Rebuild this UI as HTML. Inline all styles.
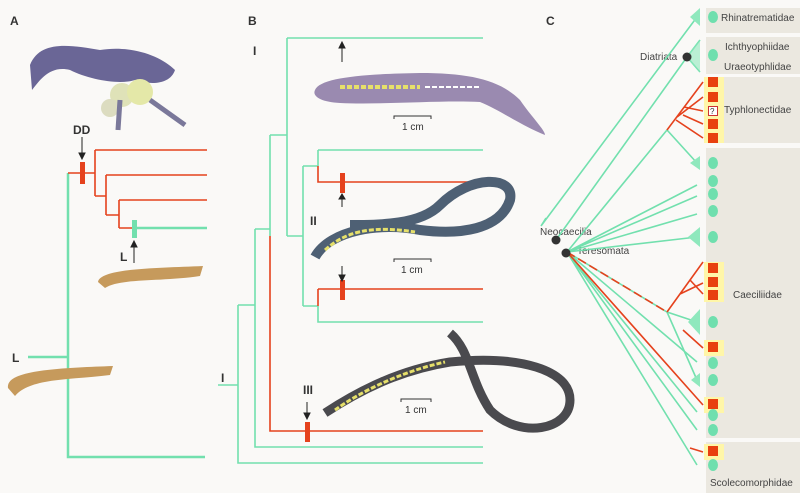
<!DOCTYPE html>
<html><head><meta charset="utf-8"><style>
html,body{margin:0;padding:0;background:#faf9f7;}
svg{display:block;font-family:"Liberation Sans",sans-serif;}
</style></head><body>
<svg width="800" height="493" viewBox="0 0 800 493" xmlns="http://www.w3.org/2000/svg">
<rect width="800" height="493" fill="#faf9f7"/>
<g fill="#ebe8e0">
<rect x="706" y="8" width="94" height="25"/>
<rect x="706" y="37" width="94" height="37"/>
<rect x="706" y="77" width="94" height="66"/>
<rect x="706" y="148" width="94" height="290"/>
<rect x="706" y="442" width="94" height="51"/>
</g>
<g fill="#fff6a8">
<rect x="704" y="77" width="20" height="66"/>
<rect x="704" y="262" width="20" height="40"/>
<rect x="704" y="340" width="20" height="16"/>
<rect x="704" y="397" width="20" height="16"/>
<rect x="704" y="444" width="20" height="16"/>
</g>
<g font-size="10" fill="#444">
<text x="721" y="21">Rhinatrematidae</text>
<text x="725" y="50">Ichthyophiidae</text>
<text x="724" y="70">Uraeotyphlidae</text>
<text x="724" y="113">Typhlonectidae</text>
<text x="733" y="298">Caeciliidae</text>
<text x="710" y="486">Scolecomorphidae</text>
<text x="640" y="60">Diatriata</text>
<text x="540" y="235">Neocaecilia</text>
<text x="577" y="254">Teresomata</text>
</g>
<g font-size="12" font-weight="bold" fill="#333">
<text x="10" y="25">A</text><text x="248" y="25">B</text><text x="546" y="25">C</text>
<text x="73" y="134">DD</text><text x="120" y="261">L</text><text x="12" y="362">L</text>
<text x="221" y="382">I</text><text x="253" y="55">I</text><text x="310" y="225">II</text><text x="303" y="394">III</text>
</g>
<g stroke="#72e0ae" stroke-width="1.6" fill="none">
<path d="M541 226 L546 218 M541 226 L697 17"/>
<path d="M556 240 L687 57 L700 40 M687 57 L700 72"/>
<path d="M567 252 L667 130 L697 163"/>
<path d="M567 252 L697 185 M567 252 L697 196 M567 252 L697 214"/>
<path d="M567 252 L697 237"/>
<path d="M567 252 L667 312 L697 322 M667 312 L697 380"/>
<path d="M567 252 L697 362 M567 252 L697 412 M567 252 L697 430 M567 252 L697 465"/>
</g>
<g stroke="#e5421d" stroke-width="1.6" fill="none">
<path d="M567 252 L667 312" stroke-dasharray="9 4"/>
<path d="M667 312 L703 262 M680 294 L703 283 M690 280 L703 294"/>
<path d="M667 130 L703 82 M677 117 L703 97 M684 107 L703 111 M683 115 L703 124 M676 120 L703 138"/>
<path d="M683 330 L703 348 M567 252 L703 405 M690 448 L703 452"/>
</g>
<g fill="#8fe8bd">
<path d="M690 17 L700 8 L700 26Z"/><path d="M686 57 L700 40 L700 72Z" opacity=".6"/>
<path d="M690 163 L700 156 L700 170Z"/><path d="M688 237 L700 227 L700 247Z"/>
<path d="M688 322 L700 309 L700 335Z"/><path d="M691 380 L700 373 L700 387Z"/>
</g>
<g fill="#6fdfae">
<ellipse cx="713" cy="17" rx="5" ry="6"/><ellipse cx="713" cy="55" rx="5" ry="6"/>
<ellipse cx="713" cy="163" rx="5" ry="6"/><ellipse cx="713" cy="181" rx="5" ry="6"/><ellipse cx="713" cy="194" rx="5" ry="6"/><ellipse cx="713" cy="211" rx="5" ry="6"/><ellipse cx="713" cy="237" rx="5" ry="6"/>
<ellipse cx="713" cy="322" rx="5" ry="6"/><ellipse cx="713" cy="363" rx="5" ry="6"/><ellipse cx="713" cy="380" rx="5" ry="6"/><ellipse cx="713" cy="415" rx="5" ry="6"/><ellipse cx="713" cy="430" rx="5" ry="6"/><ellipse cx="713" cy="465" rx="5" ry="6"/>
</g>
<g fill="#e8400f">
<rect x="708" y="77" width="10" height="10"/><rect x="708" y="92" width="10" height="10"/><rect x="708" y="119" width="10" height="10"/><rect x="708" y="133" width="10" height="10"/>
<rect x="708" y="263" width="10" height="10"/><rect x="708" y="277" width="10" height="10"/><rect x="708" y="290" width="10" height="10"/>
<rect x="708" y="342" width="10" height="10"/><rect x="708" y="399" width="10" height="10"/><rect x="708" y="446" width="10" height="10"/>
</g>
<rect x="708.5" y="106.5" width="9" height="9" fill="#fff" stroke="#c33"/>
<text x="710" y="114" font-size="8" fill="#333">?</text>
<g fill="#333"><circle cx="687" cy="57" r="4.5"/><circle cx="556" cy="240" r="4.5"/><circle cx="566" cy="253" r="4.5"/></g>

<g stroke="#72e0ae" stroke-width="2.5" fill="none">
<path d="M68 173 V457 H205 M28 357 H68 M135 228 H207"/>
</g>
<g stroke="#e5421d" stroke-width="1.6" fill="none">
<path d="M68 173 H95 M95 150 V196 M95 150 H207 M95 196 H106 M106 175 V215 M106 175 H207 M106 215 H119 M119 200 V228 M119 200 H207 M119 228 H135"/>
</g>
<rect x="80" y="162" width="5" height="22" fill="#e5421d"/>
<rect x="132" y="220" width="5" height="18" fill="#72e0ae"/>
<g stroke="#222" stroke-width="1" fill="#222">
<path d="M82 137 V154"/><path d="M79 153 L82 159 L85 153Z"/>
<path d="M134 263 V246"/><path d="M131 247 L134 241 L137 247Z"/>
</g>
<g>
<path d="M30 65 C40 40 70 45 100 50 C130 45 160 55 175 70 C170 85 150 85 135 80 C120 85 90 80 70 70 C50 65 40 80 32 90Z" fill="#6a6696"/>
<circle cx="122" cy="95" r="12" fill="#dfe2b8"/><circle cx="140" cy="92" r="13" fill="#e4e8a8"/><circle cx="110" cy="108" r="9" fill="#dcdcc0"/>
<path d="M120 100 L118 130 M150 100 L185 125" stroke="#7a789a" stroke-width="5"/>
<path d="M98 282 C100 268 160 268 203 266 L200 276 C160 282 120 278 105 288Z" fill="#c69a5c"/>
<path d="M8 388 C5 370 60 368 113 366 L110 375 C70 380 30 378 15 396Z" fill="#c69a5c"/>
</g>

<g stroke="#72e0ae" stroke-width="1.6" fill="none">
<path d="M287 38 V236 M287 38 H483 M270 135 H287 M287 236 H303 M303 166 V306 M303 166 H318 M318 150 V166 M318 150 H483 M303 306 H318 M318 306 V322 H483"/>
<path d="M270 135 V236 M255 229 H270 M255 229 V447 H483 M238 305 H255 M238 305 V463 H483 M218 385 H238"/>
</g>
<g stroke="#e5421d" stroke-width="1.6" fill="none">
<path d="M318 166 V182 H483 M318 289 V306 M318 289 H483 M270 236 V431 H483"/>
</g>
<g fill="#e5421d"><rect x="340" y="173" width="5" height="20"/><rect x="340" y="280" width="5" height="20"/><rect x="305" y="422" width="5" height="20"/></g>
<g stroke="#222" stroke-width="1" fill="#222">
<path d="M342 62 V47"/><path d="M339 48 L342 42 L345 48Z"/>
<path d="M342 207 V199"/><path d="M339 199 L342 194 L345 199Z"/>
<path d="M342 266 V276"/><path d="M339 275 L342 281 L345 275Z"/>
<path d="M307 402 V414"/><path d="M304 413 L307 419 L310 413Z"/>
</g>
<g stroke="#333" fill="none" stroke-width="1">
<path d="M394 119 V116 H431 V119"/><path d="M394 262 V259 H431 V262"/><path d="M401 402 V399 H431 V402"/>
</g>
<g font-size="10" fill="#333"><text x="402" y="130">1 cm</text><text x="401" y="273">1 cm</text><text x="405" y="413">1 cm</text></g>
<path d="M315 90 C320 78 360 74 420 73 C470 73 500 80 520 100 C530 115 545 130 545 135 C520 125 500 110 480 102 C440 100 380 105 340 103 C320 102 312 96 315 90Z" fill="#9a8ab0"/>
<path d="M340 87 H420" stroke="#e6e06a" stroke-width="4" stroke-dasharray="5 2"/>
<path d="M425 87 H480" stroke="#fff" stroke-width="2" stroke-dasharray="5 2"/>
<path d="M315 257 C330 230 380 222 420 230 C460 235 500 230 510 200 C515 175 470 175 440 205 C420 225 380 225 350 225" stroke="#4e6074" stroke-width="10" fill="none"/>
<path d="M325 250 C345 232 370 225 415 232" stroke="#e6e06a" stroke-width="3" stroke-dasharray="5 2" fill="none"/>
<path d="M325 413 C360 390 400 370 450 362 C520 355 570 370 570 400 C570 430 520 440 490 410 C470 380 470 350 450 333" stroke="#4a4a4e" stroke-width="9" fill="none"/>
<path d="M335 410 C360 392 400 372 445 362" stroke="#e6e06a" stroke-width="3" stroke-dasharray="5 2" fill="none"/>
</svg>
</body></html>
